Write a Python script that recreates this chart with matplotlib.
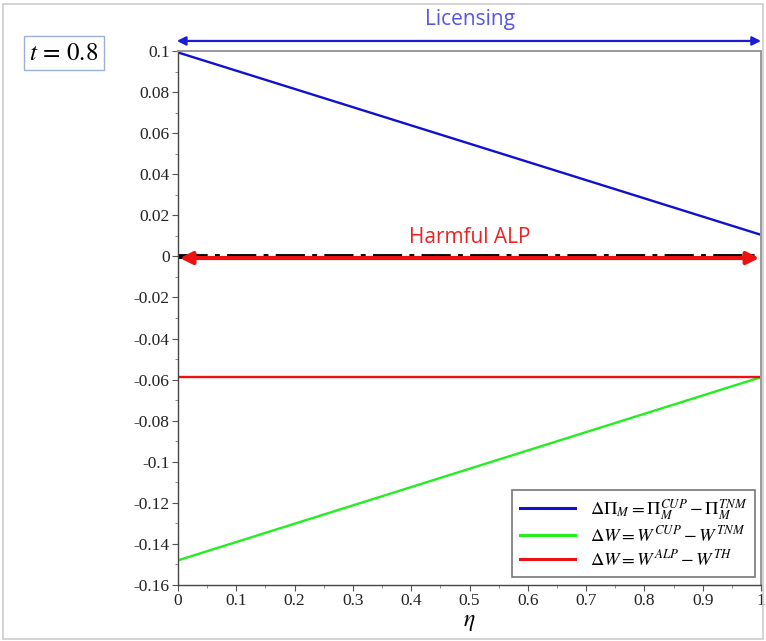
import numpy as np
import matplotlib.pyplot as plt
from matplotlib.ticker import MultipleLocator
from matplotlib.patches import Rectangle

plt.rcParams['mathtext.fontset'] = 'stix'

# end values of each curve over eta in [0, 1]
eta = [0.0, 1.0]
d_profit = [0.0993, 0.0105]
d_welfare_cup = [-0.148, -0.0588]
d_welfare_alp = [-0.0588, -0.0588]

xticks = [0, 0.1, 0.2, 0.3, 0.4, 0.5, 0.6, 0.7, 0.8, 0.9, 1]
xticklabels = ['0', '0.1', '0.2', '0.3', '0.4', '0.5', '0.6', '0.7', '0.8', '0.9', '1']
yticks = [0.1, 0.08, 0.06, 0.04, 0.02, 0, -0.02, -0.04, -0.06, -0.08, -0.1, -0.12, -0.14, -0.16]
yticklabels = ['0.1', '0.08', '0.06', '0.04', '0.02', '0', '-0.02', '-0.04', '-0.06',
               '-0.08', '-0.1', '-0.12', '-0.14', '-0.16']

fig = plt.figure(figsize=(7.66, 6.41), dpi=100)
ax = fig.add_axes([0.2324, 0.0874, 0.7611, 0.833])

ax.plot(eta, [0, 0], color='black', lw=3.5, ls=(0, (6, 1.5, 1, 1.5)), zorder=2)
ax.plot(eta, d_profit, color='#1010d0', lw=1.7, label=r'$\Delta\Pi_M = \Pi_M^{CUP} - \Pi_M^{TNM}$')
ax.plot(eta, d_welfare_cup, color='#22ee22', lw=1.7, label=r'$\Delta W = W^{CUP} - W^{TNM}$')
ax.plot(eta, d_welfare_alp, color='#ee1111', lw=1.7, label=r'$\Delta W = W^{ALP} - W^{TH}$')

ax.set_xlim(0, 1)
ax.set_ylim(-0.16, 0.1)
ax.set_xticks(xticks)
ax.set_xticklabels(xticklabels)
ax.set_yticks(yticks)
ax.set_yticklabels(yticklabels)
ax.xaxis.set_minor_locator(MultipleLocator(0.05))
ax.yaxis.set_minor_locator(MultipleLocator(0.01))
for lab in ax.get_xticklabels() + ax.get_yticklabels():
    lab.set_fontfamily('Liberation Serif')
    lab.set_fontsize(12.5)
    lab.set_color('#222222')
ax.tick_params(which='major', direction='out', length=4, width=0.8, color='#555555', pad=2)
ax.tick_params(which='minor', direction='out', length=2, width=0.6, color='#777777')
ax.set_xlabel(r'$\eta$', fontsize=17, labelpad=0)

for s in ['left', 'bottom']:
    ax.spines[s].set_color('#444444')
    ax.spines[s].set_linewidth(1.0)
for s in ['top', 'right']:
    ax.spines[s].set_color('#999999')
    ax.spines[s].set_linewidth(1.4)

# double-headed arrows across the eta range
ax.annotate('', xy=(-0.002, 0.1049), xytext=(1.0, 0.1049), xycoords='data',
            arrowprops=dict(arrowstyle='<|-|>', color='#1a1ad8', lw=1.6,
                            mutation_scale=13, shrinkA=0, shrinkB=0),
            annotation_clip=False)
ax.text(0.5, 0.1152, 'Licensing', color='#5555e6', fontsize=15, family='Open Sans',
        ha='center', va='center')

ax.annotate('', xy=(0.003, -0.0008), xytext=(0.997, -0.0008), xycoords='data',
            arrowprops=dict(arrowstyle='<|-|>', color='#ee1111', lw=3,
                            mutation_scale=18, shrinkA=0, shrinkB=0), zorder=3)
ax.text(0.5, 0.0092, 'Harmful ALP', color='#ee2222', fontsize=15, family='Open Sans',
        ha='center', va='center')

leg = ax.legend(loc='lower right', fontsize=13.3, frameon=True, fancybox=False,
                edgecolor='#555555', handlelength=3.0, borderpad=0.4,
                labelspacing=0.2, borderaxespad=0, bbox_to_anchor=(0.9897, 0.015))
leg.get_frame().set_linewidth(1.2)
for line in leg.get_lines():
    line.set_linewidth(2.2)

fig.text(0.0835, 0.918, r'$t\,=\,0.8$', fontsize=18, ha='center', va='center',
         bbox=dict(boxstyle='square,pad=0.2', facecolor='white', edgecolor='#9ab0d8', lw=1.0))

fig.patches.append(Rectangle((0.004, 0.003), 0.992, 0.991, transform=fig.transFigure,
                             fill=False, edgecolor='#cccccc', lw=1.2))

fig.savefig('out.png', dpi=100)
